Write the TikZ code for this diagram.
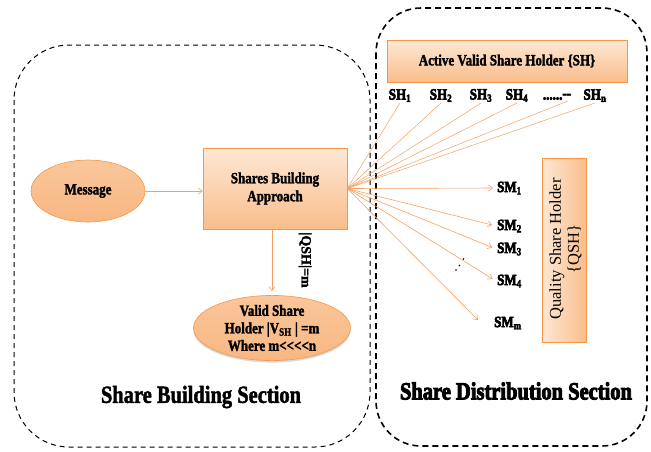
\documentclass[tikz,border=0pt]{standalone}
\usepackage{fontspec}
\setmainfont{Liberation Serif}
\newfontfamily\heavyfont[FakeBold=4]{Liberation Serif Bold}
\newfontfamily\semifont[FakeBold=2]{Liberation Serif Bold}
\usetikzlibrary{arrows.meta,shapes.geometric,shadows}
\definecolor{bord}{RGB}{247,150,70}
\definecolor{lite}{RGB}{253,232,212}
\definecolor{dark}{RGB}{250,189,140}
\definecolor{ovtop}{RGB}{250,198,155}
\definecolor{ovmid}{RGB}{252,214,184}
\definecolor{ovbot}{RGB}{248,183,130}
\definecolor{arr}{RGB}{245,160,100}
\newcommand{\vs}[1]{\scalebox{1}[1.2]{#1}}
\begin{document}
\begin{tikzpicture}[x=1pt,y=-1pt,
  lbl/.style={font=\fontsize{13}{17}\semifont, inner sep=1pt},
  hlbl/.style={font=\fontsize{13}{17}\heavyfont, inner sep=1pt},
  vbox/.style={draw=bord, line width=0.6pt, top color=lite, bottom color=dark,
     drop shadow={shadow xshift=1pt, shadow yshift=-1pt, opacity=0.25}},
  hbox/.style={draw=bord, line width=0.6pt, left color=lite, right color=dark,
     drop shadow={shadow xshift=1pt, shadow yshift=-1pt, opacity=0.25}},
  oval/.style={ellipse, draw=bord, line width=0.6pt,
     top color=ovtop, middle color=ovmid, bottom color=ovbot, inner sep=0pt,
     font=\fontsize{13}{17.5}\semifont, align=center},
  conn/.style={draw=arr, line width=0.6pt, -{Straight Barb[length=4pt,width=6pt]}},
  fan/.style={draw=arr, line width=0.5pt},
  dashbox/.style={draw=black, line width=1pt, dash pattern=on 5pt off 4pt},
  dashboxb/.style={draw=black, line width=1.6pt, dash pattern=on 6pt off 4pt}
]
\useasboundingbox (0,0) rectangle (651,451);

% section frames
\draw[dashbox, rounded corners=55pt] (14,45) rectangle (370,447);
\draw[dashboxb, rounded corners=45pt] (376,8) rectangle (647,446);

% boxes
\node[vbox, minimum width=240pt, minimum height=42pt, lbl] (avsh) at (507,61)
   {\vs{Active Valid Share Holder \{SH\}}};
\node[vbox, minimum width=144pt, minimum height=81pt, lbl, align=center] (sba) at (275,188.5)
   {\vs{Shares Building}\\[1pt]\vs{Approach}};
\node[hbox, minimum width=44pt, minimum height=184pt] (qsh) at (564,250) {};
\node[font=\fontsize{16.5}{18}\selectfont, align=center, rotate=90] (qtext) at (565.5,249)
   {Quality Share Holder\\\{QSH\}};

% ellipses
\node[oval, minimum width=114pt, minimum height=62pt] (msg) at (88,191) {\vs{Message}};
\node[oval, minimum width=157pt, minimum height=60pt,
   drop shadow={shadow xshift=0pt, shadow yshift=-2pt, opacity=0.3}] (valid) at (272,328)
   {\vs{Valid Share}\\\vs{Holder |V\textsubscript{SH} | =m}\\\vs{Where m<{}<{}<{}<n}};

% arrows in building section
\draw[conn] (msg.east) -- (msg.east -| sba.west);
\draw[conn, shorten >=4pt] (sba.south -| valid.north) -- (valid.north);
\node[lbl, font=\fontsize{14}{17}\semifont, rotate=-90] (qm) at (305,260) {|QSH|=m};

% SH labels
\node[hlbl, anchor=south] (sh1) at (400,103) {\vs{SH\textsubscript{1}}};
\node[hlbl, anchor=south] (sh2) at (441,103) {\vs{SH\textsubscript{2}}};
\node[hlbl, anchor=south] (sh3) at (481,103) {\vs{SH\textsubscript{3}}};
\node[hlbl, anchor=south] (sh4) at (517,103) {\vs{SH\textsubscript{4}}};
\node[hlbl, anchor=south] (shd) at (557,101) {\vs{......\raisebox{1pt}{--}}};
\node[hlbl, anchor=south] (shn) at (595,103) {\vs{SH\textsubscript{n}}};
\coordinate (dotend) at (568,101);

\foreach \t in {sh1,sh2,sh3,sh4,shn}
  \draw[fan] (sba.east) -- (\t.south);
\draw[fan] (sba.east) -- (dotend);

% SM labels
\node[hlbl, anchor=west] (sm1) at (496,188) {\vs{SM\textsubscript{1}}};
\node[hlbl, anchor=west] (sm2) at (496,226) {\vs{SM\textsubscript{2}}};
\node[hlbl, anchor=west] (sm3) at (496,249) {\vs{SM\textsubscript{3}}};
\node[hlbl, anchor=west] (sm4) at (496,281) {\vs{SM\textsubscript{4}}};
\node[hlbl, anchor=west] (smm) at (493,323) {\vs{SM\textsubscript{m}}};
\coordinate (smmend) at (478,320);

\draw[conn, shorten >=3pt] (sba.east) -- (sm1.west);
\draw[conn, shorten >=4pt] (sba.east) -- (sm2.west);
\draw[conn, shorten >=4pt] (sba.east) -- (sm3.west);
\draw[conn, shorten >=4pt] (sba.east) -- (sm4.west);
\draw[conn] (sba.east) -- (smmend);

% vertical ellipsis
\fill (456,270) circle (0.9);
\fill (459.5,265.5) circle (0.9);
\fill (463.5,259) circle (0.9);

% section titles
\node[font=\fontsize{20.5}{24}\semifont] (tb) at (201,397) {\vs{Share Building Section}};
\node[font=\fontsize{20.5}{24}\heavyfont] (td) at (516,391) {\vs{Share Distribution Section}};
\end{tikzpicture}
\end{document}
